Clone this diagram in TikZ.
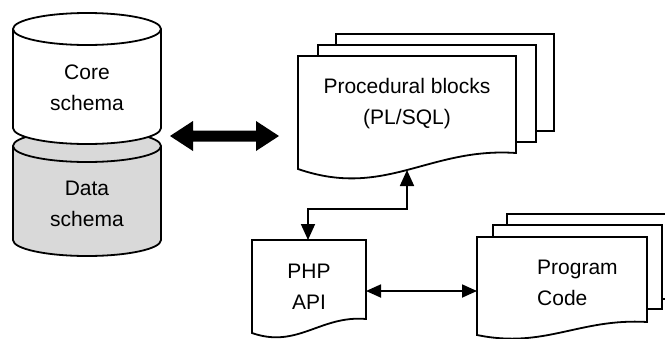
\documentclass[tikz,border=0pt]{standalone}
\usepackage{fontspec}
\setmainfont{Liberation Sans}
\usetikzlibrary{arrows.meta,calc}
\definecolor{datagray}{RGB}{217,217,217}
\tikzset{
  outline/.style={line width=1.8pt, draw=black, line join=miter},
  lbl/.style={font=\fontsize{21}{31}\selectfont, align=center, inner sep=0pt},
  conn/.style={line width=1.8pt, {Triangle[length=16pt,width=14pt]}-{Triangle[length=16pt,width=14pt]}},
  bigarrow/.style={fill=black, draw=none}
}
% x0, y0, x1, y-left-bottom, y-right-bottom, right ctrl lift, left ctrl drop
\newcommand\docsheet[7]{%
  \filldraw[outline, fill=white] (#1,#2) -- (#3,#2) -- (#3,#5)
    .. controls ({#1+0.6*(#3-#1)},{#5-#6}) and ({#1+0.4*(#3-#1)},{#4+#7}) .. (#1,#4) -- cycle;}
% cylinder (centre x 87, half width 74, ellipse half height 16): ytop-centre, ybottom-centre, fill
\newcommand\dbcyl[3]{%
  \filldraw[outline, fill=#3] (13,#1) -- (13,#2)
    .. controls (13,{#2+8.84}) and (46.13,{#2+16}) .. (87,{#2+16})
    .. controls (127.87,{#2+16}) and (161,{#2+8.84}) .. (161,#2) -- (161,#1)
    .. controls (161,{#1-8.84}) and (127.87,{#1-16}) .. (87,{#1-16})
    .. controls (46.13,{#1-16}) and (13,{#1-8.84}) .. (13,#1) -- cycle;
  \draw[outline] (13,#1)
    .. controls (13,{#1+8.84}) and (46.13,{#1+16}) .. (87,{#1+16})
    .. controls (127.87,{#1+16}) and (161,{#1+8.84}) .. (161,#1);}
\begin{document}
\begin{tikzpicture}[x=1pt,y=-1pt]
\useasboundingbox (0,0) rectangle (665,338);
\clip (0,0) rectangle (665,338);

% ---------- cylinders ----------
\dbcyl{146}{240}{datagray}
\dbcyl{29}{128}{white}
\node[lbl] (core) at (87,88) {Core\\schema};
\node[lbl] (data) at (87,204) {Data\\schema};

% ---------- procedural blocks ----------
\filldraw[outline, fill=white] (336,34) rectangle (554,131);
\filldraw[outline, fill=white] (318,45) rectangle (536,142);
\docsheet{298}{56}{516}{169}{153}{6}{30}
\node[lbl] (proc) at (407,104) {Procedural blocks\\(PL/SQL)};

% ---------- PHP API ----------
\docsheet{252}{240}{366}{333}{319}{4}{16}
\node[lbl] (php) at (309,287) {PHP\\API};

% ---------- program code ----------
\filldraw[outline, fill=white] (507,214) rectangle (677,299);
\filldraw[outline, fill=white] (493,225) rectangle (662,309);
\docsheet{477}{237}{647}{335}{322}{4}{14}
\node[lbl, align=left, anchor=west] (prog) at (537,283) {Program\\Code};

% ---------- connectors ----------
\coordinate (dbR) at (170,136);
\coordinate (procL) at (279,136);
\fill[bigarrow] (dbR) -- ($(dbR)+(23,-15)$) -- ($(dbR)+(23,-5.5)$) -- ($(procL)+(-23,-5.5)$)
  -- ($(procL)+(-23,-15)$) -- (procL) -- ($(procL)+(-23,15)$) -- ($(procL)+(-23,5.5)$)
  -- ($(dbR)+(23,5.5)$) -- ($(dbR)+(23,15)$) -- cycle;

\coordinate (phpTop) at (308,240);
\coordinate (procBot) at (407,170);
\draw[conn] (phpTop) -- ++(0,-31) -| (procBot);

\coordinate (phpR) at (366,291);
\coordinate (progL) at (477,291);
\draw[line width=1.8pt, {Triangle[length=15pt,width=13pt]}-{Triangle[length=15pt,width=13pt]}] (phpR) -- (progL);
\end{tikzpicture}
\end{document}
